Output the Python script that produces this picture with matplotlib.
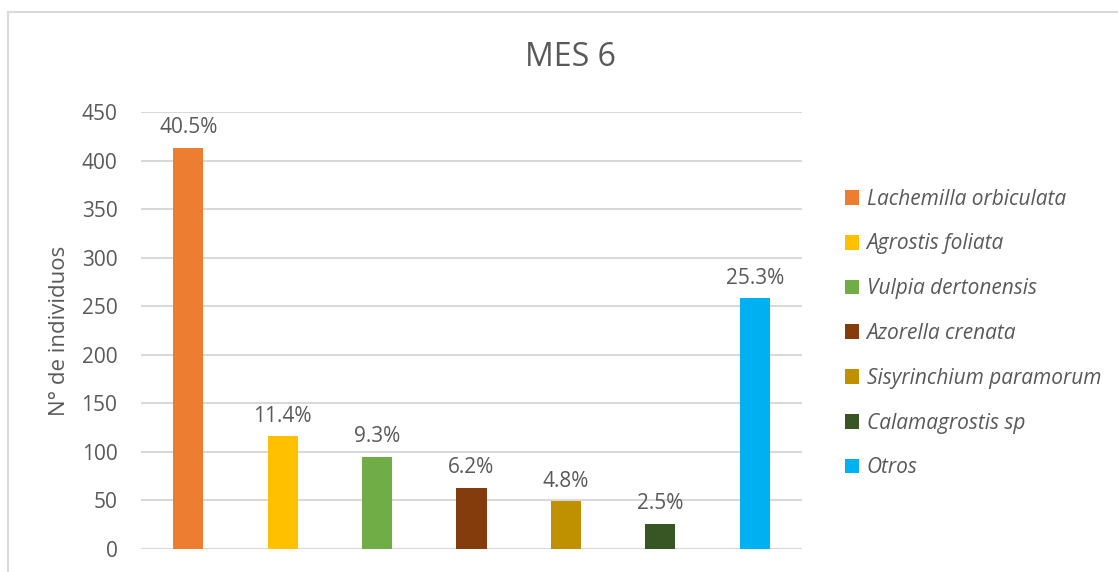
import matplotlib.pyplot as plt
from matplotlib.patches import Rectangle, Patch

plt.rcParams['font.family'] = ['Open Sans', 'DejaVu Sans']

# data
especies = ['Lachemilla orbiculata', 'Agrostis foliata', 'Vulpia dertonensis',
            'Azorella crenata', 'Sisyrinchium paramorum', 'Calamagrostis sp', 'Otros']
individuos = [413, 116, 95, 63, 49, 26, 258]
etiquetas = ['40.5%', '11.4%', '9.3%', '6.2%', '4.8%', '2.5%', '25.3%']
colores = ['#ED7D31', '#FFC000', '#70AD47', '#843C0C', '#BF9000', '#375623', '#00B0F0']

txt = '#595959'
grid = '#D9D9D9'

fig = plt.figure(figsize=(11.18, 5.72), dpi=100)
# outer chart border
fig.patches.append(Rectangle((8/1118, -0.1), 1.2, 1 - 12/572 + 0.1, transform=fig.transFigure,
                             fill=False, edgecolor=grid, linewidth=1.5))

ax = fig.add_axes([141/1118, 23/572, 661/1118, 437/572])
x = range(len(especies))
bars = ax.bar(x, individuos, width=0.32, color=colores, zorder=3)
for b, lab in zip(bars, etiquetas):
    ax.text(b.get_x() + b.get_width()/2, b.get_height() + 10, lab,
            ha='center', va='bottom', fontsize=15, color=txt)

ax.set_xlim(-0.5, len(especies) - 0.5)
ax.set_ylim(0, 450)
ax.set_yticks(range(0, 451, 50))
ax.set_xticks([])
ax.tick_params(axis='y', length=0, labelsize=15, labelcolor=txt, pad=17)
ax.yaxis.grid(True, color=grid, linewidth=1.5, zorder=0)
for s in ax.spines.values():
    s.set_visible(False)
ax.axhline(0, color=grid, linewidth=1.5, zorder=1)
ax.set_ylabel('N° de individuos', fontsize=16, color=txt, labelpad=8)

fig.text(570/1118, 1 - 58/572, 'MES 6', ha='center', va='center', fontsize=23, color=txt)

handles = [Patch(facecolor=c) for c in colores]
leg = fig.legend(handles, especies, loc='upper left', bbox_to_anchor=(826/1118, 1 - 170/572),
                 frameon=False, prop={'style': 'italic', 'size': 15}, labelcolor=txt,
                 handlelength=0.7, handleheight=0.7, handletextpad=0.35, labelspacing=1.14)

fig.savefig('out.png', dpi=100)
